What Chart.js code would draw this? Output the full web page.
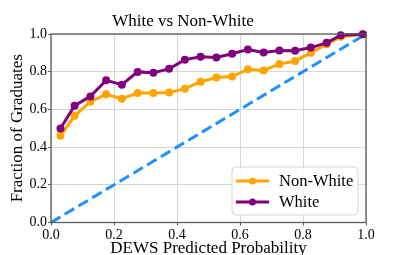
<!DOCTYPE html>
<html>
<head>
<meta charset="utf-8">
<script src="https://cdn.jsdelivr.net/npm/chart.js@4/dist/chart.umd.min.js"></script>
<style>
  html, body { margin: 0; padding: 0; background: #fff; }
  canvas { display: block; }
</style>
</head>
<body>
<canvas id="chart" width="407" height="255"></canvas>
<script>
// predicted probability bins (x) and observed graduation fractions
const probBins = [0.03, 0.075, 0.125, 0.175, 0.225, 0.275, 0.325, 0.375, 0.425, 0.475,
                  0.525, 0.575, 0.625, 0.675, 0.725, 0.775, 0.825, 0.875, 0.92, 0.99];
const nonWhite = [0.46, 0.566, 0.641, 0.68, 0.657, 0.687, 0.687, 0.69, 0.71, 0.747,
                  0.769, 0.774, 0.813, 0.807, 0.841, 0.857, 0.90, 0.946, 0.985, 0.999];
const white = [0.499, 0.62, 0.669, 0.754, 0.731, 0.799, 0.795, 0.815, 0.864, 0.879,
               0.875, 0.895, 0.918, 0.902, 0.912, 0.911, 0.928, 0.953, 0.994, 0.999];
const diagX = [0, 1];
const tickValues = [0, 0.2, 0.4, 0.6, 0.8, 1.0];

const FONT = "'Liberation Serif', 'Times New Roman', serif";

const toPoints = (xs, ys) => xs.map((x, i) => ({ x: x, y: ys[i] }));

// box around the plot + legend in lower right, matplotlib style
const framePlugin = {
  id: 'frame',
  afterDraw(chart) {
    const { ctx, chartArea: a } = chart;
    ctx.save();
    ctx.strokeStyle = '#5a5a5a';
    ctx.lineWidth = 1.3;
    ctx.strokeRect(a.left, a.top, a.right - a.left, a.bottom - a.top);

    // legend, in the order the series were plotted
    const items = chart.data.datasets.filter(d => d.label).sort((p, q) => q.order - p.order);
    const bw = 126, bh = 48;
    const bx = a.right - 8 - bw, by = a.bottom - 7.5 - bh;
    ctx.beginPath();
    ctx.roundRect(bx, by, bw, bh, 4);
    ctx.fillStyle = 'rgba(255,255,255,0.85)';
    ctx.fill();
    ctx.strokeStyle = '#d4d4d4';
    ctx.lineWidth = 1;
    ctx.stroke();
    items.forEach((d, i) => {
      const y = by + 14 + i * 21;
      ctx.strokeStyle = d.borderColor;
      ctx.lineWidth = 3;
      ctx.beginPath();
      ctx.moveTo(bx + 4, y);
      ctx.lineTo(bx + 37, y);
      ctx.stroke();
      ctx.fillStyle = d.borderColor;
      ctx.beginPath();
      ctx.arc(bx + 20.5, y, 3.5, 0, Math.PI * 2);
      ctx.fill();
      ctx.fillStyle = '#000';
      ctx.font = '16.5px ' + FONT;
      ctx.textBaseline = 'middle';
      ctx.textAlign = 'left';
      ctx.fillText(d.label, bx + 47, y + 0.5);
    });
    ctx.restore();
  }
};

const axisCommon = {
  type: 'linear',
  min: 0,
  max: 1,
  afterBuildTicks: (axis) => { axis.ticks = tickValues.map(v => ({ value: v })); },
  grid: { color: '#d6d6d6', lineWidth: 1, tickLength: 3, tickColor: '#5a5a5a' },
  border: { display: false },
};

const ctx = document.getElementById('chart').getContext('2d');
const chart = new Chart(ctx, {
  type: 'scatter',
  data: {
    datasets: [
      {
        label: 'White',
        data: toPoints(probBins, white),
        showLine: true,
        borderColor: '#800080',
        backgroundColor: '#800080',
        borderWidth: 3,
        pointBorderWidth: 0,
        pointRadius: 4,
        pointHoverRadius: 4,
        clip: false,
        order: 0
      },
      {
        label: 'Non-White',
        data: toPoints(probBins, nonWhite),
        showLine: true,
        borderColor: '#ffa500',
        backgroundColor: '#ffa500',
        borderWidth: 3,
        pointBorderWidth: 0,
        pointRadius: 4,
        pointHoverRadius: 4,
        clip: false,
        order: 1
      },
      {
        label: '',
        data: toPoints(diagX, diagX),
        showLine: true,
        borderColor: '#1e90ff',
        borderWidth: 3,
        borderDash: [11, 5],
        pointRadius: 0,
        clip: false,
        order: 2
      }
    ]
  },
  options: {
    responsive: false,
    animation: false,
    devicePixelRatio: 1,
    layout: { padding: { left: 0, right: 41, top: 0, bottom: 0 } },
    plugins: {
      legend: { display: false },
      tooltip: { enabled: false },
      title: {
        display: true,
        text: 'White vs Non-White',
        color: '#000',
        font: { family: FONT, size: 17, weight: 'normal' },
        padding: { top: 11, bottom: 2.6 }
      }
    },
    scales: {
      x: {
        ...axisCommon,
        ticks: {
          color: '#000',
          padding: 1,
          maxRotation: 0,
          font: { family: FONT, size: 14 },
          callback: v => v.toFixed(1)
        },
        title: {
          display: true,
          text: 'DEWS Predicted Probability',
          color: '#000',
          font: { family: FONT, size: 17 },
          padding: { top: 0, bottom: -4 }
        },
        afterFit: (axis) => { axis.height = 32.5; }
      },
      y: {
        ...axisCommon,
        ticks: {
          color: '#000',
          padding: 1,
          font: { family: FONT, size: 14 },
          callback: v => v.toFixed(1)
        },
        title: {
          display: true,
          text: 'Fraction of Graduates',
          color: '#000',
          font: { family: FONT, size: 17 },
          padding: { top: 7, bottom: 0 }
        },
        afterFit: (axis) => { axis.width = 51; }
      }
    }
  },
  plugins: [framePlugin]
});
</script>
</body>
</html>
